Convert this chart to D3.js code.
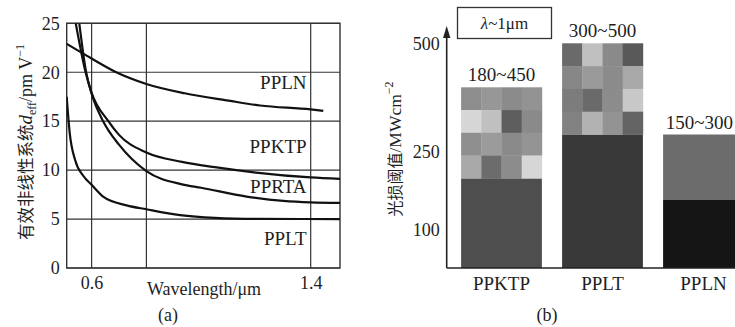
<!DOCTYPE html>
<html>
<head>
<meta charset="utf-8">
<script src="https://cdn.jsdelivr.net/npm/d3@7"></script>
<style>
  body { margin: 0; background: #fff; }
  svg { display: block; }
  text { font-family: "Liberation Serif", "Times New Roman", Tinos, "DejaVu Serif", serif; fill: #1e1e1e; }
  .cjk { font-family: "Noto Sans CJK SC", "Noto Sans CJK JP", sans-serif; }
</style>
</head>
<body>
<svg id="chart" width="735" height="327"></svg>
<script>
// ---- panel (a): d_eff vs wavelength ----
const yTicksA = [0, 5, 10, 15, 20, 25];
const xTicksA = [0.6, 1.4];
const xGridA = [0.6, 0.8, 1.4];

// [wavelength um, d_eff pm/V]
const ppln  = [[0.509, 22.9], [0.6, 21.4], [0.69, 20.0], [0.8, 18.8], [0.94, 17.85], [1.1, 17.1], [1.215, 16.6], [1.4, 16.2], [1.446, 16.05]];
const ppktp = [[0.542, 25], [0.578, 20.0], [0.6, 17.9], [0.661, 15.0], [0.7, 13.6], [0.8, 11.8], [0.93, 10.85], [1.05, 10.3], [1.2, 9.75], [1.4, 9.25], [1.507, 9.1]];
const pprta = [[0.555, 25], [0.58, 20.0], [0.6, 17.8], [0.642, 15.0], [0.7, 12.6], [0.8, 9.9], [0.93, 8.55], [1.0, 8.2], [1.166, 7.3], [1.3, 6.85], [1.4, 6.7], [1.507, 6.65]];
const pplt  = [[0.509, 17.5], [0.52, 13.8], [0.54, 11.0], [0.57, 9.4], [0.6, 8.5], [0.642, 7.3], [0.728, 6.4], [0.8, 6.0], [0.923, 5.4], [1.05, 5.12], [1.2, 5.02], [1.507, 5.0]];
const seriesA = [
  { name: "PPLN",  values: ppln,  label: [1.385, 18.3] },
  { name: "PPKTP", values: ppktp, label: [1.385, 11.8] },
  { name: "PPRTA", values: pprta, label: [1.385, 7.65] },
  { name: "PPLT",  values: pplt,  label: [1.385, 2.35] }
];

// ---- panel (b): laser damage threshold ----
const crystalsB = ["PPKTP", "PPLT", "PPLN"];
const thresholdLow = [180, 300, 150];
const thresholdHigh = [450, 500, 300];
const yTicksB = [100, 250, 500];

// mosaic shades for the upper (range) part of the bars
const mosaicShades = {
  PPKTP: [["#8d8d8d", "#979797", "#8b8b8b", "#939393"],
          ["#d6d6d6", "#c0c0c0", "#5e5e5e", "#8a8a8a"],
          ["#8f8f8f", "#9b9b9b", "#8a8a8a", "#949494"],
          ["#a9a9a9", "#6c6c6c", "#8c8c8c", "#d6d6d6"]],
  PPLT:  [["#6a6a6a", "#c0c0c0", "#8a8a8a", "#595959"],
          ["#878787", "#9a9a9a", "#8b8b8b", "#a8a8a8"],
          ["#7c7c7c", "#6a6a6a", "#8c8c8c", "#c8c8c8"],
          ["#828282", "#b2b2b2", "#939393", "#646464"]]
};
const lowerFill = { PPKTP: "#4e4e4e", PPLT: "#393939", PPLN: "#151515" };
const upperFill = { PPLN: "#6c6c6c" };

const svg = d3.select("#chart");
const W = +svg.attr("width");
const serif = '"Liberation Serif", "Times New Roman", Tinos, "DejaVu Serif", serif';

// ================= panel (a) =================
const x = d3.scaleLinear().domain([0.509, 1.507]).range([66.7, 340]);
const y = d3.scaleLinear().domain([0, 25]).range([268, 23.3]);

const gA = svg.append("g");

gA.append("defs").append("clipPath").attr("id", "plotA")
  .append("rect")
  .attr("x", x.range()[0]).attr("y", y.range()[1])
  .attr("width", x.range()[1] - x.range()[0])
  .attr("height", y.range()[0] - y.range()[1]);

// horizontal grid
gA.append("g")
  .selectAll("line").data(yTicksA).enter().append("line")
  .attr("x1", x.range()[0]).attr("x2", x.range()[1])
  .attr("y1", d => y(d)).attr("y2", d => y(d))
  .attr("stroke", "#333").attr("stroke-width", 1.2);

// vertical grid
gA.append("g")
  .selectAll("line").data(xGridA).enter().append("line")
  .attr("x1", d => x(d)).attr("x2", d => x(d))
  .attr("y1", y.range()[0]).attr("y2", y.range()[1])
  .attr("stroke", "#333").attr("stroke-width", 1.2);

// frame
gA.append("rect")
  .attr("x", x.range()[0]).attr("y", y.range()[1])
  .attr("width", x.range()[1] - x.range()[0])
  .attr("height", y.range()[0] - y.range()[1])
  .attr("fill", "none").attr("stroke", "#333").attr("stroke-width", 1.4);

// tick labels via d3 axes (no tick marks)
gA.append("g")
  .attr("transform", "translate(" + x.range()[0] + ",0)")
  .call(d3.axisLeft(y).tickValues(yTicksA).tickSize(0).tickPadding(7).tickFormat(d3.format("d")))
  .call(g => g.select(".domain").remove())
  .selectAll("text").attr("font-size", 18).style("font-family", serif).attr("fill", "#1e1e1e");

gA.append("g")
  .attr("transform", "translate(0," + y.range()[0] + ")")
  .call(d3.axisBottom(x).tickValues(xTicksA).tickSize(0).tickPadding(8).tickFormat(d3.format(".1f")))
  .call(g => g.select(".domain").remove())
  .selectAll("text").attr("font-size", 18).style("font-family", serif).attr("fill", "#1e1e1e");

const line = d3.line()
  .x(d => x(d[0]))
  .y(d => y(d[1]))
  .curve(d3.curveMonotoneX);

gA.append("g").attr("clip-path", "url(#plotA)")
  .selectAll("path").data(seriesA).enter().append("path")
  .attr("d", d => line(d.values))
  .attr("fill", "none").attr("stroke", "#111").attr("stroke-width", 2.2);

gA.selectAll(".slabel").data(seriesA).enter().append("text")
  .attr("class", "slabel")
  .attr("x", d => x(d.label[0])).attr("y", d => y(d.label[1]))
  .attr("text-anchor", "end").attr("font-size", 19)
  .text(d => d.name);

gA.append("text")
  .attr("x", 204).attr("y", 295)
  .attr("text-anchor", "middle").attr("font-size", 18)
  .text("Wavelength/\u03bcm");

gA.append("text")
  .attr("x", 168).attr("y", 321)
  .attr("text-anchor", "middle").attr("font-size", 18)
  .text("(a)");

const yTitleA = gA.append("text")
  .attr("transform", "translate(32,142) rotate(-90)")
  .attr("text-anchor", "middle").attr("font-size", 17);
yTitleA.append("tspan").attr("class", "cjk").attr("font-size", 16.5).text("有效非线性系统");
yTitleA.append("tspan").attr("font-style", "italic").attr("font-size", 19).text("d");
yTitleA.append("tspan").attr("font-size", 12).attr("dy", 4).text("eff");
yTitleA.append("tspan").attr("font-size", 18).attr("dy", -4).text("/pm V");
yTitleA.append("tspan").attr("font-size", 12).attr("dy", -8).text("\u22121");

// ================= panel (b) =================
const xB = d3.scaleBand().domain(crystalsB).range([451, 754]).paddingInner(0.2).paddingOuter(0.1);
// the figure's value axis is schematic, so a piecewise linear scale is used
const yB = d3.scaleLinear()
  .domain([0, 100, 150, 180, 250, 300, 450, 500])
  .range([268, 230, 200, 178.3, 151.7, 134.5, 87.3, 43.3]);

const gB = svg.append("g");
const barsB = crystalsB.map((c, i) => ({ name: c, low: thresholdLow[i], high: thresholdHigh[i] }));

// lower solid part
gB.selectAll(".lower").data(barsB).enter().append("rect")
  .attr("class", "lower")
  .attr("x", d => xB(d.name)).attr("width", xB.bandwidth())
  .attr("y", d => yB(d.low)).attr("height", d => yB(0) - yB(d.low))
  .attr("fill", d => lowerFill[d.name]);

// upper range part
barsB.forEach(d => {
  const top = yB(d.high), bot = yB(d.low);
  const shades = mosaicShades[d.name];
  if (!shades) {
    gB.append("rect")
      .attr("x", xB(d.name)).attr("width", xB.bandwidth())
      .attr("y", top).attr("height", bot - top)
      .attr("fill", upperFill[d.name]);
    return;
  }
  const rows = d3.scaleBand().domain(d3.range(shades.length)).range([top, bot]);
  const cols = d3.scaleBand().domain(d3.range(shades[0].length)).range([xB(d.name), xB(d.name) + xB.bandwidth()]);
  const cells = [];
  shades.forEach((r, ri) => r.forEach((s, ci) => cells.push({ ri, ci, s })));
  gB.append("g").selectAll("rect").data(cells).enter().append("rect")
    .attr("x", c => cols(c.ci)).attr("width", cols.bandwidth() + 0.3)
    .attr("y", c => rows(c.ri)).attr("height", rows.bandwidth() + 0.3)
    .attr("fill", c => c.s);
});

// range labels (kept inside the picture at the right edge)
gB.selectAll(".rlabel").data(barsB).enter().append("text")
  .attr("class", "rlabel")
  .attr("x", d => xB(d.name) + xB.bandwidth() / 2)
  .attr("y", d => yB(d.high) - 6)
  .attr("text-anchor", "middle").attr("font-size", 19)
  .text(d => d.low + "~" + d.high)
  .each(function () {
    const half = this.getComputedTextLength() / 2;
    const cx = +this.getAttribute("x");
    if (cx + half > W - 2) this.setAttribute("x", W - 2 - half);
  });

// category labels
gB.append("g")
  .attr("transform", "translate(0," + yB(0) + ")")
  .call(d3.axisBottom(xB).tickSize(0).tickPadding(9))
  .call(g => g.select(".domain").remove())
  .selectAll("text").attr("font-size", 19).style("font-family", serif).attr("fill", "#1e1e1e");

// value tick labels
gB.append("g")
  .attr("transform", "translate(446.7,0)")
  .call(d3.axisLeft(yB).tickValues(yTicksB).tickSize(0).tickPadding(7))
  .call(g => g.select(".domain").remove())
  .selectAll("text").attr("font-size", 18).style("font-family", serif).attr("fill", "#1e1e1e");

// axes lines with arrow
gB.append("line")
  .attr("x1", 446.7).attr("x2", W).attr("y1", yB(0)).attr("y2", yB(0))
  .attr("stroke", "#222").attr("stroke-width", 1.6);
gB.append("line")
  .attr("x1", 446.7).attr("x2", 446.7).attr("y1", yB(0)).attr("y2", 36)
  .attr("stroke", "#222").attr("stroke-width", 1.6);
gB.append("path")
  .attr("d", "M446.7,26 L443,38 L450.4,38 Z")
  .attr("fill", "#222");

// lambda box
gB.append("rect")
  .attr("x", 457.5).attr("y", 7.5).attr("width", 94).attr("height", 31)
  .attr("fill", "#fff").attr("stroke", "#333").attr("stroke-width", 1.3);
const lam = gB.append("text").attr("x", 504.5).attr("y", 29).attr("text-anchor", "middle").attr("font-size", 17);
lam.append("tspan").attr("font-style", "italic").text("\u03bb");
lam.append("tspan").text("~1\u03bcm");

const yTitleB = gB.append("text")
  .attr("transform", "translate(401,149) rotate(-90)")
  .attr("text-anchor", "middle").attr("font-size", 17.5);
yTitleB.append("tspan").attr("class", "cjk").attr("font-size", 16).text("光损阈值");
yTitleB.append("tspan").text("/MWcm");
yTitleB.append("tspan").attr("font-size", 12).attr("dy", -8).text("\u22122");

gB.append("text")
  .attr("x", 547).attr("y", 321)
  .attr("text-anchor", "middle").attr("font-size", 18)
  .text("(b)");
</script>
</body>
</html>
